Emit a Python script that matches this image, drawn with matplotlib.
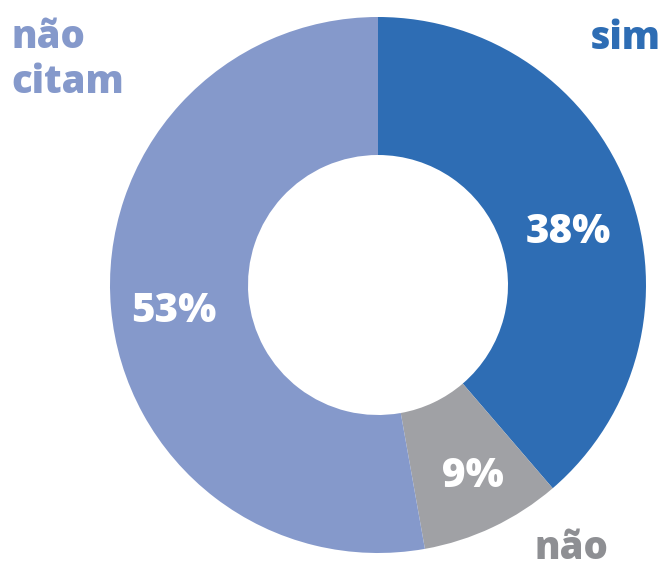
import matplotlib
matplotlib.use("Agg")
import matplotlib.pyplot as plt

categories = ["sim", "não", "não citam"]
# wedge sizes as drawn in the reference (measured angles, %)
wedge_values = [38.7, 8.5, 52.8]
# printed labels
pct_labels = ["38%", "9%", "53%"]
colors = ["#2E6DB4", "#A0A1A5", "#8599CB"]
label_colors = ["#2E6DB4", "#8E8F93", "#8599CB"]

W, H = 664, 562
fig = plt.figure(figsize=(W / 100, H / 100), dpi=100)
cx, cy, R = 378, 285, 268
ax = fig.add_axes([(cx - R) / W, (H - cy - R) / H, 2 * R / W, 2 * R / H])
wedges, texts = ax.pie(wedge_values, colors=colors, startangle=90, counterclock=False,
                       radius=1, wedgeprops=dict(width=(268 - 130) / 268, linewidth=0),
                       labels=None)
ax.set_xlim(-1, 1)
ax.set_ylim(-1, 1)
ax.axis("off")

font = dict(family=["Open Sans", "DejaVu Sans"], fontweight=800)

def px(x, y):
    return x / W, 1 - y / H

# percentage labels (center x, baseline y)
pos = [(568, 243), (473, 487), (174, 322)]
for (x, y), t in zip(pos, pct_labels):
    fig.text(*px(x, y), t, color="white", fontsize=29, ha="center", va="baseline", **font)

# category labels
fig.text(*px(661, 49), categories[0], color=label_colors[0], fontsize=27.5,
         ha="right", va="baseline", **font)
fig.text(*px(608, 559), categories[1], color=label_colors[1], fontsize=27.5,
         ha="right", va="baseline", **font)
fig.text(*px(11, 48), "não", color=label_colors[2], fontsize=27.5,
         ha="left", va="baseline", **font)
fig.text(*px(11, 93), "citam", color=label_colors[2], fontsize=27.5,
         ha="left", va="baseline", **font)

fig.savefig("out.png", dpi=100)
